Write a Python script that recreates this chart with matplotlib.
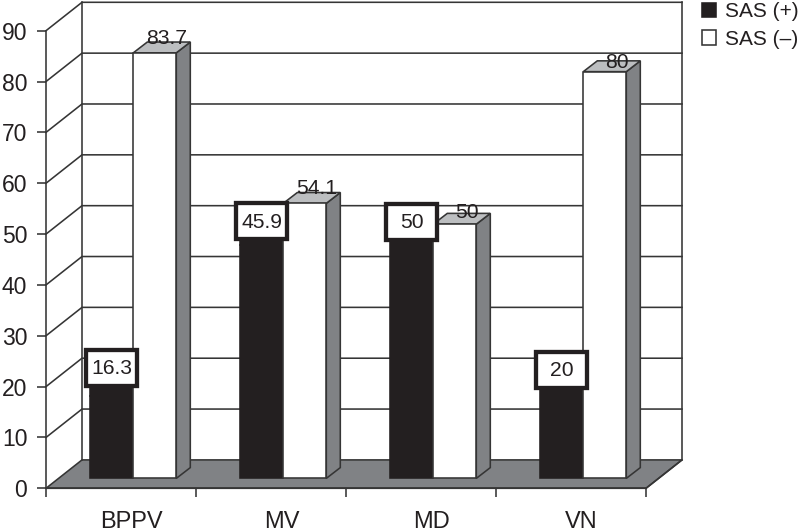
import matplotlib
matplotlib.use("Agg")
import matplotlib.pyplot as plt
from matplotlib.patches import Polygon, Rectangle, Patch

categories = ["BPPV", "MV", "MD", "VN"]
sas_pos = [16.3, 45.9, 50, 20]
sas_neg = [83.7, 54.1, 50, 80]
sas_pos_labels = ["16.3", "45.9", "50", "20"]
sas_neg_labels = ["83.7", "54.1", "50", "80"]
y_ticks = list(range(0, 100, 10))

DARK = "#231f20"
LINE = "#353535"
SIDE = "#808285"
TOP = "#bcbec0"
plt.rcParams["font.family"] = ["Liberation Sans", "DejaVu Sans"]

W, H = 800, 531
fig = plt.figure(figsize=(W / 100, H / 100), dpi=100, facecolor="white")
L, R, B, T = 46, 646, 488.3, 30.7
ax = fig.add_axes([L / W, 1 - B / H, (R - L) / W, (B - T) / H])
ax.set_xlim(0, 4)
ax.set_ylim(0, 90)
PX = 150.0            # pixels per category
PY = (B - T) / 90.0   # pixels per value unit
DX, DY = 36 / PX, 28.4 / PY
FX, FY = 12.3 / PX, 9.9 / PY     # bar front plane, from the floor's front edge
SX, SY = 14 / PX, 10.8 / PY      # bar depth
BW = 43 / PX
lw = 1.15


def poly(pts, fc, z, ec=LINE):
    ax.add_patch(Polygon(pts, closed=True, fc=fc, ec=ec, lw=lw, zorder=z,
                         clip_on=False, joinstyle="miter"))


# floor and walls
poly([(0, 0), (4, 0), (4 + DX, DY), (DX, DY)], SIDE, 1)
for v in y_ticks[1:]:
    ax.plot([0, DX, 4 + DX], [v, v + DY, v + DY], color=LINE, lw=lw, zorder=2,
            clip_on=False, solid_joinstyle="miter")
ax.plot([DX, DX], [DY, 90 + DY], color=LINE, lw=lw, zorder=2, clip_on=False)
ax.plot([4 + DX, 4 + DX], [DY, 90 + DY], color=LINE, lw=lw, zorder=2, clip_on=False)
ax.plot([4, 4 + DX], [0, DY], color=LINE, lw=lw, zorder=2, clip_on=False)

# bars
stem_px = [28, 24, 2.5, 7]
label_up_px = [14, 15, 12, 9.5]
z = 3
for i, cat in enumerate(categories):
    xm = i + 0.5 + FX
    # black bar, with the stem that carries its label box
    ax.bar(xm - BW, sas_pos[i], BW, bottom=FY, align="edge", color=DARK,
           edgecolor=DARK, lw=lw, zorder=z, clip_on=False)
    ax.bar(xm - BW, stem_px[i] / PY, BW, bottom=FY + sas_pos[i], align="edge",
           color=DARK, edgecolor=DARK, lw=lw, zorder=z, clip_on=False)
    # white bar
    top = FY + sas_neg[i]
    poly([(xm + BW, FY), (xm + BW + SX, FY + SY), (xm + BW + SX, top + SY), (xm + BW, top)], SIDE, z + 1)
    poly([(xm, top), (xm + BW, top), (xm + BW + SX, top + SY), (xm + SX, top + SY)], TOP, z + 1)
    ax.bar(xm, sas_neg[i], BW, bottom=FY, align="edge", color="white",
           edgecolor=LINE, lw=lw, zorder=z + 2, clip_on=False)
    ax.text(xm + BW / 2 + 12 / PX, top + label_up_px[i] / PY, sas_neg_labels[i], ha="center",
            va="center", fontsize=15.2, color=DARK, zorder=50, clip_on=False)
    # boxed label
    cx, cy = xm - BW / 2, FY + sas_pos[i] + stem_px[i] / PY
    bw, bh = 51 / PX, 36 / PY
    ax.add_patch(Rectangle((cx - bw / 2, cy - bh / 2), bw, bh, fc="white", ec=DARK,
                           lw=3.1, zorder=40, clip_on=False, joinstyle="miter"))
    ax.text(cx, cy - 0.2, sas_pos_labels[i], ha="center", va="center", fontsize=15.2,
            color=DARK, zorder=50, clip_on=False)
    z += 3

# axes
for s in ("top", "right"):
    ax.spines[s].set_visible(False)
for s in ("left", "bottom"):
    ax.spines[s].set_color(LINE)
    ax.spines[s].set_linewidth(lw)
    ax.spines[s].set_zorder(30)
ax.set_yticks(y_ticks)
ax.tick_params(axis="y", length=6.5, width=lw, color=LINE, pad=7, labelsize=16.5, labelcolor=DARK)
ax.set_xticks(range(5))
ax.set_xticklabels([])
ax.set_xticks([i + 0.5 + 10.5 / PX for i in range(4)], categories, minor=True)
ax.tick_params(axis="x", which="major", length=6.5, width=lw, color=LINE)
ax.tick_params(axis="x", which="minor", length=0, pad=16, labelsize=17, labelcolor=DARK)

# legend
handles = [Patch(fc=DARK, ec=DARK, lw=lw, label="SAS (+)"),
           Patch(fc="white", ec=LINE, lw=lw, label="SAS (\u2013)")]
fig.legend(handles=handles, loc="upper left", bbox_to_anchor=(699 / W, 1 + 1 / H),
           frameon=False, fontsize=15, handlelength=0.67, handleheight=0.67,
           handletextpad=0.45, labelspacing=0.42, borderpad=0.15, borderaxespad=0,
           labelcolor=DARK)

fig.savefig("out.png", dpi=100, facecolor="white")
